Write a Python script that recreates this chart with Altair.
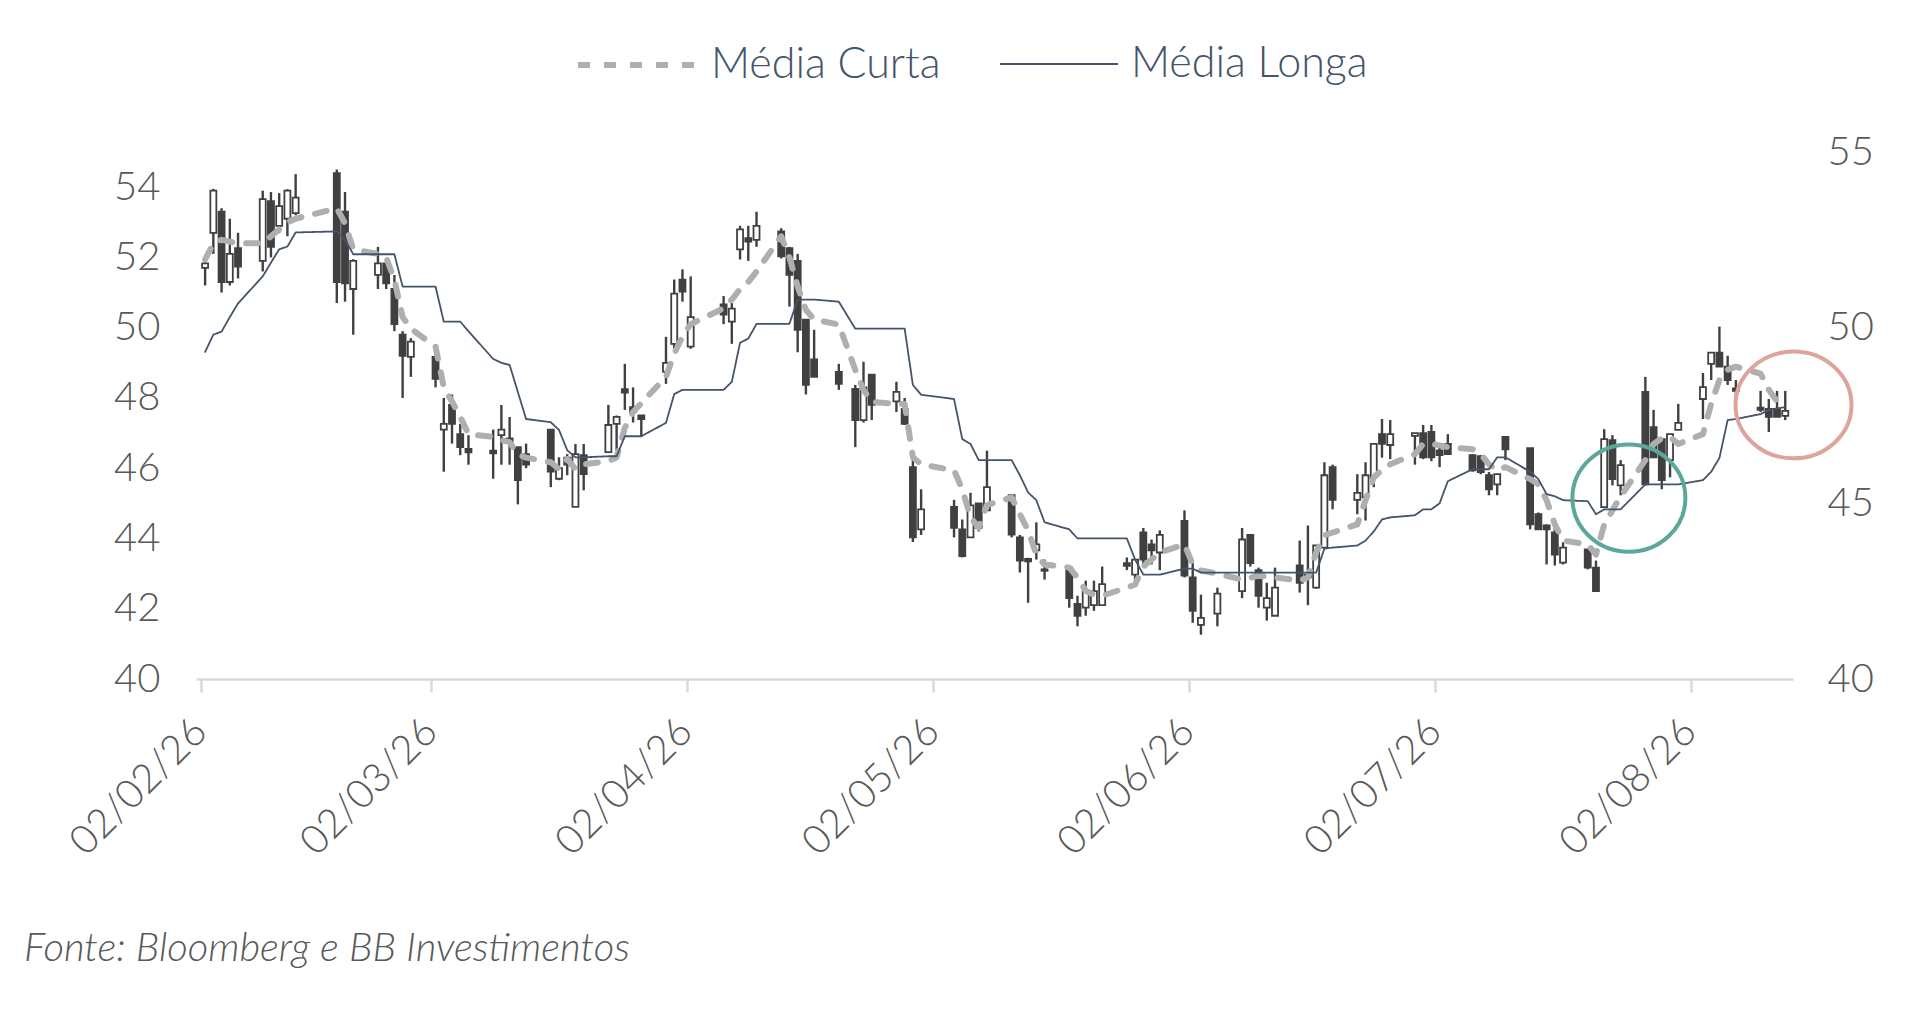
import altair as alt
import pandas as pd

# ---------------- data ----------------
dates = [
    "2026-02-02", "2026-02-03", "2026-02-04", "2026-02-05", "2026-02-06",
    "2026-02-09", "2026-02-10", "2026-02-11", "2026-02-12", "2026-02-13",
    "2026-02-18", "2026-02-19", "2026-02-20",
    "2026-02-23", "2026-02-24", "2026-02-25", "2026-02-26", "2026-02-27",
    "2026-03-02", "2026-03-03", "2026-03-04", "2026-03-05", "2026-03-06",
    "2026-03-09", "2026-03-10", "2026-03-11", "2026-03-12", "2026-03-13",
    "2026-03-16", "2026-03-17", "2026-03-18", "2026-03-19", "2026-03-20",
    "2026-03-23", "2026-03-24", "2026-03-25", "2026-03-26", "2026-03-27",
    "2026-03-30", "2026-03-31", "2026-04-01", "2026-04-02",
    "2026-04-06", "2026-04-07", "2026-04-08", "2026-04-09", "2026-04-10",
    "2026-04-13", "2026-04-14", "2026-04-15", "2026-04-16", "2026-04-17",
    "2026-04-20", "2026-04-22", "2026-04-23", "2026-04-24",
    "2026-04-27", "2026-04-28", "2026-04-29", "2026-04-30",
    "2026-05-04", "2026-05-05", "2026-05-06", "2026-05-07", "2026-05-08",
    "2026-05-11", "2026-05-12", "2026-05-13", "2026-05-14", "2026-05-15",
    "2026-05-18", "2026-05-19", "2026-05-20", "2026-05-21", "2026-05-22",
    "2026-05-25", "2026-05-26", "2026-05-27", "2026-05-28", "2026-05-29",
    "2026-06-01", "2026-06-02", "2026-06-03", "2026-06-05",
    "2026-06-08", "2026-06-09", "2026-06-10", "2026-06-11", "2026-06-12",
    "2026-06-15", "2026-06-16", "2026-06-17", "2026-06-18", "2026-06-19",
    "2026-06-22", "2026-06-23", "2026-06-24", "2026-06-25", "2026-06-26",
    "2026-06-29", "2026-06-30", "2026-07-01", "2026-07-02", "2026-07-03",
    "2026-07-06", "2026-07-07", "2026-07-08", "2026-07-09", "2026-07-10",
    "2026-07-13", "2026-07-14", "2026-07-15", "2026-07-16", "2026-07-17",
    "2026-07-20", "2026-07-21", "2026-07-22", "2026-07-23", "2026-07-24",
    "2026-07-27", "2026-07-28", "2026-07-29", "2026-07-30", "2026-07-31",
    "2026-08-03", "2026-08-04", "2026-08-05", "2026-08-06", "2026-08-07",
    "2026-08-10", "2026-08-11", "2026-08-12", "2026-08-13",
]

opens = [
    51.70, 52.70, 53.30, 51.30, 52.26, 51.90, 53.60, 52.90, 53.10, 53.26,
    54.40, 53.30, 51.10, 51.50, 51.83, 51.10, 49.80, 49.17,
    49.17, 47.10, 47.80, 46.97, 46.55, 46.50, 46.94, 46.85, 46.60, 46.40,
    47.10, 45.70, 46.30, 44.90, 46.37, 46.46, 47.26, 48.25, 47.74, 47.50,
    48.74, 49.54, 51.37, 49.46,
    50.66, 50.17, 52.23, 52.55, 52.50, 52.74, 52.26, 51.90, 50.23, 49.10,
    48.74, 48.26, 47.37, 48.66, 47.90, 47.69, 46.03, 44.26,
    44.90, 44.26, 44.03, 45.00, 44.80, 45.23, 44.03, 43.42, 43.66, 43.12,
    43.17, 42.14, 42.03, 42.10, 42.10, 43.30, 42.97, 44.17, 43.83, 43.60,
    44.50, 42.89, 41.54, 41.86, 42.50, 44.10, 43.10, 42.03, 41.80,
    43.23, 42.97, 42.60, 43.74, 46.03, 45.10, 45.17, 45.74, 46.97, 46.66,
    46.92, 47.00,
    47.03, 46.51, 46.69, 46.37, 46.34, 45.80, 45.54, 46.89, 46.57, 44.69,
    44.37, 44.17, 43.31, 43.69, 43.17, 44.89, 46.80, 45.51, 48.17, 47.17,
    46.83, 46.23, 47.09,
    47.97, 48.97, 49.29, 48.89, 48.27, 47.72, 47.69, 47.69, 47.49,
]

highs = [
    52.00, 53.95, 53.40, 53.10, 52.70, 53.90, 53.86, 53.83, 53.94, 54.37,
    54.50, 53.86, 51.95, 52.30, 51.90, 51.50, 49.90, 49.70,
    49.20, 48.00, 48.10, 47.26, 46.94, 47.10, 47.80, 47.46, 46.60, 46.70,
    47.10, 46.31, 46.40, 46.69, 46.69, 47.80, 47.50, 48.97, 48.30, 47.50,
    49.74, 51.37, 51.66, 51.46,
    50.90, 50.70, 52.90, 52.90, 53.30, 52.83, 52.30, 52.10, 50.23, 49.94,
    48.97, 48.37, 49.03, 48.66, 48.46, 48.00, 46.37, 45.40,
    45.10, 44.54, 45.30, 45.00, 46.50, 45.26, 44.10, 43.45, 44.46, 43.40,
    43.20, 42.37, 42.80, 42.80, 43.20, 43.46, 43.40, 44.30, 43.97, 44.23,
    44.80, 43.30, 42.40, 42.60, 44.30, 44.10, 43.17, 42.74, 43.17,
    43.94, 44.37, 43.80, 46.17, 46.10, 45.83, 46.17, 46.69, 47.40, 47.37,
    47.00, 47.23,
    47.23, 46.69, 46.97, 46.40, 46.37, 45.89, 45.83, 46.89, 46.57, 44.74,
    44.40, 44.30, 43.89, 43.69, 43.37, 47.11, 46.94, 46.23, 48.60, 47.66,
    46.83, 46.97, 47.83,
    48.71, 49.30, 50.03, 49.20, 48.51, 48.20, 47.97, 48.20, 48.20,
]

lows = [
    51.20, 52.10, 51.00, 51.20, 51.40, 51.60, 52.00, 52.69, 52.60, 53.20,
    50.70, 50.74, 49.80, 51.10, 51.10, 49.90, 48.00, 48.60,
    48.30, 45.90, 46.70, 46.37, 46.10, 45.70, 46.10, 46.10, 44.97, 46.00,
    45.46, 45.66, 45.80, 44.90, 45.37, 46.46, 46.51, 47.66, 47.30, 46.90,
    48.40, 49.40, 50.74, 49.40,
    50.10, 49.54, 51.94, 51.90, 52.30, 51.97, 50.60, 49.30, 48.10, 48.60,
    48.23, 46.60, 47.30, 47.37, 47.60, 47.23, 43.90, 44.10,
    44.03, 43.46, 44.03, 44.20, 44.80, 44.03, 43.03, 42.17, 43.40, 42.83,
    42.03, 41.50, 41.80, 41.94, 42.10, 43.10, 42.80, 43.26, 43.26, 43.10,
    42.89, 41.60, 41.26, 41.50, 42.30, 43.20, 42.03, 41.66, 41.80,
    42.46, 42.10, 42.57, 43.74, 44.83, 44.69, 44.51, 45.46, 46.30, 46.26,
    46.10, 46.26,
    46.20, 46.03, 46.40, 45.90, 45.83, 45.23, 45.23, 46.23, 44.26, 44.26,
    43.26, 43.23, 43.26, 43.12, 42.50, 44.89, 45.51, 45.23, 45.51, 46.31,
    45.40, 45.74, 47.09,
    47.40, 48.51, 48.89, 48.37, 47.74, 47.60, 47.03, 47.46, 47.37,
]

closes = [
    51.83, 53.90, 51.30, 52.10, 51.74, 53.66, 52.30, 53.46, 53.90, 53.70,
    51.30, 51.26, 51.90, 51.83, 51.26, 50.10, 49.20, 49.60,
    48.54, 47.26, 47.26, 46.60, 46.45, 46.42, 47.10, 46.75, 45.66, 46.10,
    45.90, 46.00, 46.10, 46.40, 45.83, 47.23, 47.46, 48.15, 47.60, 47.40,
    49.00, 50.97, 51.03, 50.30,
    50.37, 50.54, 52.80, 52.45, 52.90, 52.03, 51.50, 49.94, 48.37, 48.60,
    48.40, 47.37, 48.30, 47.80, 48.17, 47.26, 44.03, 44.83,
    44.30, 43.50, 44.94, 44.30, 45.46, 44.11, 43.37, 43.35, 43.83, 43.08,
    42.30, 41.80, 42.50, 42.50, 42.70, 43.22, 43.40, 43.40, 43.66, 44.10,
    42.94, 41.94, 41.74, 42.43, 43.97, 43.30, 42.37, 42.30, 42.60,
    42.74, 42.89, 43.80, 45.80, 45.10, 45.30, 45.80, 46.69, 46.69, 46.97,
    47.00, 46.31,
    46.31, 46.37, 46.40, 45.94, 45.89, 45.40, 45.83, 46.54, 44.40, 44.26,
    44.26, 43.54, 43.74, 43.17, 42.50, 46.83, 45.69, 46.09, 45.54, 46.31,
    45.66, 46.97, 47.29,
    48.31, 49.29, 48.89, 48.51, 48.20, 47.66, 47.46, 47.46, 47.63,
]

media_curta = [
    51.94, 52.40, 52.50, 52.45, 52.40, 52.40, 52.60, 52.80, 53.00, 53.10,
    53.40, 52.97, 52.23, 52.10, 52.00, 51.37, 50.30, 49.97,
    49.46, 48.30, 47.90, 47.46, 46.97, 46.89, 46.80, 46.74, 46.40, 46.30,
    46.17, 45.97, 46.26, 45.97, 46.11, 46.20, 46.31, 47.15, 47.60, 47.85,
    48.60, 49.26, 49.75, 50.10,
    50.55, 50.80, 51.10, 51.30, 51.60, 52.60, 52.00, 51.17, 50.51, 50.23,
    50.09, 48.80, 48.23, 47.89, 47.83, 47.83, 46.31, 46.11,
    45.94, 45.40, 44.60, 44.31, 44.95, 45.17, 44.69, 44.23, 43.54, 43.26,
    43.17, 42.89, 42.51, 42.40, 42.37, 42.60, 42.69, 43.20, 43.40, 43.60,
    43.83, 43.26, 43.09, 43.00, 42.83, 42.88, 42.94, 42.92, 42.89,
    42.80, 42.89, 43.60, 44.09, 44.17, 44.40, 45.09, 45.74, 45.95, 46.11,
    46.40, 46.69,
    46.69, 46.65, 46.60, 46.54, 46.40, 46.11, 45.94, 46.03, 45.69, 45.54,
    45.09, 44.40, 43.94, 43.83, 43.54, 44.40, 44.80, 45.20, 46.23, 46.69,
    46.85, 46.89, 46.69,
    46.97, 47.83, 48.51, 48.80, 48.89, 48.69, 48.23, 47.90, 47.70,
]

media_longa = [
    49.31, 49.80, 49.89, 50.30, 50.69, 51.46, 51.85, 52.23, 52.31, 52.71,
    52.74, 52.50, 52.09, 52.09, 52.09, 52.09, 51.17, 51.17,
    51.17, 50.17, 50.17, 50.17, 49.90, 49.11, 49.00, 48.94, 48.17, 47.40,
    47.31, 47.09, 46.51, 46.31, 46.31, 46.34, 46.34, 46.91, 46.91, 46.91,
    47.29, 48.11, 48.23, 48.23,
    48.23, 48.46, 49.57, 49.69, 50.11, 50.11, 50.11, 50.80, 50.80, 50.80,
    50.74, 49.97, 49.97, 49.97, 49.97, 49.97, 48.37, 48.09,
    47.97, 46.83, 46.69, 46.23, 46.23, 46.23, 45.80, 45.31, 45.09, 44.46,
    44.26, 44.00, 44.00, 44.00, 44.00, 44.00, 43.40, 42.97, 42.97, 42.97,
    43.14, 43.14, 43.03, 43.03, 43.03, 43.03, 43.03, 43.03, 43.03,
    43.03, 43.03, 43.03, 43.71, 43.74, 43.80, 43.94, 44.20, 44.54, 44.60,
    44.66, 44.83,
    44.83, 45.00, 45.63, 45.97, 45.97, 45.97, 46.31, 46.31, 45.90, 45.69,
    45.26, 45.20, 45.09, 45.06, 44.69, 44.83, 44.83, 44.83, 45.54, 45.54,
    45.54, 45.54, 45.54,
    45.66, 45.90, 46.29, 47.37, 47.40, 47.54, 47.66, 47.70, 47.74,
]

series_names = ["Média Curta", "Média Longa"]
series_colors = ["#AFAFAF", "#44546A"]

x_tick_dates = ["2026-02-02", "2026-03-02", "2026-04-02", "2026-05-02",
                "2026-06-02", "2026-07-02", "2026-08-02"]
x_domain = ["2026-02-02", "2026-08-13T20:00:00"]
y_left_ticks = [40, 42, 44, 46, 48, 50, 52, 54]
y_right_ticks = [40, 45, 50, 55]
y_domain = [40, 55]

# highlight rings (slightly oval, like the hand-drawn shapes)
circle_dates = ["2026-07-25T12:00:00Z", "2026-08-14T12:00:00Z"]
circle_values = [45.15, 47.80]
circle_colors = ["#5BA89B", "#DDA49C"]
circle_widths = [113, 116]
circle_ratios = [0.95, 0.92]

footer = "Fonte: Bloomberg e BB Investimentos"

# ---------------- frames ----------------
def ms(s):
    return int(pd.Timestamp(s, tz="UTC").value // 10**6)

def oval(r):
    return f"M -1 0 A 1 {r} 0 1 0 1 0 A 1 {r} 0 1 0 -1 0 Z"

stamps = [d + "T12:00:00Z" for d in dates]
candles = pd.DataFrame({"date": stamps, "open": opens, "high": highs,
                        "low": lows, "close": closes})
ma = pd.concat([
    pd.DataFrame({"date": stamps, "serie": series_names[0], "valor": media_curta}),
    pd.DataFrame({"date": stamps, "serie": series_names[1], "valor": media_longa}),
], ignore_index=True)
circ = pd.DataFrame({"date": circle_dates, "valor": circle_values,
                     "cor": circle_colors,
                     "tam": [w * w for w in circle_widths],
                     "forma": [oval(r) for r in circle_ratios]})

FONT = "Lato"
DARK = "#404040"
LABEL = "#595959"

x_scale = alt.Scale(type="utc", domain=[ms(d) for d in x_domain], nice=False)
y_scale = alt.Scale(domain=y_domain, nice=False, zero=False)

x_axis = alt.Axis(values=[ms(d) for d in x_tick_dates],
                  labelExpr="utcFormat(datum.value, '%d/%m/%y')",
                  labelAngle=-45, title=None, grid=False,
                  domainColor="#D9D9D9", domainWidth=2.5, tickColor="#D9D9D9",
                  tickWidth=2.5, tickSize=13, labelPadding=19, labelOffset=-15,
                  labelFontSize=40, labelColor=LABEL, labelFont=FONT,
                  labelFontWeight=300)
y_left_axis = alt.Axis(values=y_left_ticks, orient="left", title=None,
                       grid=False, domain=False, ticks=False, labelPadding=36,
                       labelFontSize=40, labelColor=LABEL, labelFont=FONT,
                       labelFontWeight=300)
y_right_axis = alt.Axis(values=y_right_ticks, orient="right", title=None,
                        grid=False, domain=False, ticks=False, labelPadding=34,
                        labelFontSize=40, labelColor=LABEL, labelFont=FONT,
                        labelFontWeight=300)

X = alt.X("date:T", scale=x_scale, axis=x_axis)
YL = dict(scale=y_scale, axis=y_left_axis)

wicks = alt.Chart(candles).mark_rule(color=DARK, strokeWidth=2.4).encode(
    x=X,
    y=alt.Y("low:Q", **YL),
    y2="high:Q",
)

bodies = alt.Chart(candles).mark_bar(size=6, stroke=DARK, strokeWidth=1.8).encode(
    x=X,
    y=alt.Y("open:Q", **YL),
    y2="close:Q",
    fill=alt.condition("datum.close >= datum.open", alt.value("#FFFFFF"), alt.value(DARK)),
)

leg = alt.Legend(title=None, orient="none", legendX=379, legendY=-149,
                 direction="horizontal", symbolType="stroke", symbolSize=13924,
                 labelFont=FONT, labelFontSize=43, labelFontWeight=300,
                 labelColor="#44546A", labelOffset=12, columnPadding=55,
                 labelLimit=400)

lines = alt.Chart(ma).mark_line(strokeCap="round", strokeJoin="round").encode(
    x=X,
    y=alt.Y("valor:Q", **YL),
    color=alt.Color("serie:N", scale=alt.Scale(domain=series_names, range=series_colors), legend=leg),
    strokeDash=alt.StrokeDash("serie:N", scale=alt.Scale(domain=series_names, range=[[12, 14], [1, 0]]), legend=leg),
    strokeWidth=alt.StrokeWidth("serie:N", scale=alt.Scale(domain=series_names, range=[6, 1.8]), legend=leg),
)

circles = alt.Chart(circ).mark_point(filled=False, strokeWidth=4, opacity=1).encode(
    x=X,
    y=alt.Y("valor:Q", scale=alt.Scale(domain=y_domain, nice=False, zero=False), axis=y_right_axis),
    color=alt.Color("cor:N", scale=None),
    size=alt.Size("tam:Q", scale=None),
    shape=alt.Shape("forma:N", scale=None),
)

main = alt.layer(wicks, bodies, lines)

chart = alt.layer(main, circles).resolve_scale(y="independent").properties(
    width=1597,
    height=527,
    padding={"left": 188, "top": 144, "right": 100, "bottom": 320},
    autosize=alt.AutoSizeParams(type="none"),
    background="#FFFFFF",
    title=alt.TitleParams(text=footer, orient="bottom", anchor="start",
                          frame="group", dx=-172, offset=67, font=FONT,
                          fontSize=40, fontStyle="italic", fontWeight=300,
                          color=LABEL),
).configure_view(stroke=None)

chart.save("out.html", embed_options={"renderer": "svg", "actions": False})
